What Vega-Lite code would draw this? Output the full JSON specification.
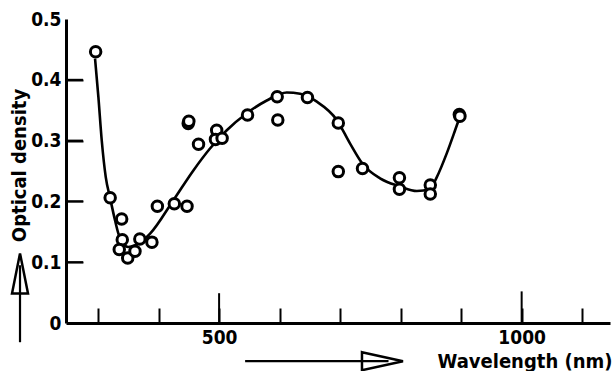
{
  "$schema": "https://vega.github.io/schema/vega-lite/v6.json",
  "autosize": "none",
  "width": 544,
  "height": 304,
  "padding": {"left": 66, "top": 19, "right": 3, "bottom": 48},
  "background": "white",
  "config": {
    "view": {"stroke": null},
    "font": "DejaVu Sans Condensed, DejaVu Sans",
    "axis": {
      "grid": false,
      "domainColor": "black",
      "domainWidth": 3,
      "tickColor": "black",
      "tickWidth": 2,
      "labelColor": "black",
      "labelFont": "DejaVu Sans Condensed, DejaVu Sans",
      "labelFontWeight": "bold",
      "labelFontSize": 19,
      "titleColor": "black",
      "titleFont": "DejaVu Sans Condensed, DejaVu Sans",
      "titleFontWeight": "bold",
      "titleFontSize": 20
    }
  },
  "datasets": {
    "points": [
      {"wl": 296, "od": 0.446},
      {"wl": 320, "od": 0.206},
      {"wl": 339, "od": 0.171},
      {"wl": 340, "od": 0.137},
      {"wl": 335, "od": 0.121},
      {"wl": 349, "od": 0.107},
      {"wl": 361, "od": 0.118},
      {"wl": 369, "od": 0.138},
      {"wl": 389, "od": 0.133},
      {"wl": 398, "od": 0.192},
      {"wl": 426, "od": 0.196},
      {"wl": 447, "od": 0.192},
      {"wl": 449, "od": 0.328},
      {"wl": 450, "od": 0.332},
      {"wl": 466, "od": 0.294},
      {"wl": 496, "od": 0.317},
      {"wl": 494, "od": 0.302},
      {"wl": 505, "od": 0.304},
      {"wl": 547, "od": 0.342},
      {"wl": 596, "od": 0.372},
      {"wl": 597, "od": 0.334},
      {"wl": 646, "od": 0.371},
      {"wl": 697, "od": 0.329},
      {"wl": 697, "od": 0.249},
      {"wl": 737, "od": 0.254},
      {"wl": 798, "od": 0.239},
      {"wl": 798, "od": 0.220},
      {"wl": 849, "od": 0.227},
      {"wl": 849, "od": 0.212},
      {"wl": 897, "od": 0.343},
      {"wl": 898, "od": 0.340}
    ],
    "curve": [
      {"wl": 295, "od": 0.435},
      {"wl": 300.5, "od": 0.372},
      {"wl": 306, "od": 0.301},
      {"wl": 312.7, "od": 0.240},
      {"wl": 319.8, "od": 0.206},
      {"wl": 328, "od": 0.169},
      {"wl": 333.6, "od": 0.147},
      {"wl": 341.3, "od": 0.131},
      {"wl": 349.6, "od": 0.125},
      {"wl": 361.2, "od": 0.128},
      {"wl": 374.4, "od": 0.136},
      {"wl": 386, "od": 0.147},
      {"wl": 424.5, "od": 0.202},
      {"wl": 457.5, "od": 0.251},
      {"wl": 485, "od": 0.287},
      {"wl": 512.7, "od": 0.317},
      {"wl": 545.8, "od": 0.345},
      {"wl": 578.8, "od": 0.366},
      {"wl": 611.9, "od": 0.379},
      {"wl": 633.9, "od": 0.377},
      {"wl": 661.5, "od": 0.364},
      {"wl": 694.5, "od": 0.334},
      {"wl": 716.5, "od": 0.295},
      {"wl": 736.9, "od": 0.262},
      {"wl": 766, "od": 0.238},
      {"wl": 798, "od": 0.225},
      {"wl": 826.8, "od": 0.217},
      {"wl": 848.8, "od": 0.221},
      {"wl": 859.8, "od": 0.240},
      {"wl": 876.2, "od": 0.279},
      {"wl": 890, "od": 0.317},
      {"wl": 896.7, "od": 0.336}
    ],
    "majorTicks": [
      {"wl": 500, "y0": 0, "y1": 0.049},
      {"wl": 1000, "y0": 0, "y1": 0.052}
    ],
    "yTicks": [
      {"tx": 261, "ty": 0.1},
      {"tx": 261, "ty": 0.2},
      {"tx": 261, "ty": 0.3},
      {"tx": 261, "ty": 0.4}
    ],
    "arrowShafts": [
      {"x0": 543, "x1": 780, "y0": -0.0628, "y1": -0.0628},
      {"x0": 171, "x1": 171, "y0": -0.0316, "y1": 0.095}
    ],
    "arrowHeadX": [{"wl": 770, "od": -0.0628}],
    "arrowHeadY": [{"wl": 171, "od": 0.0816}]
  },
  "resolve": {"axis": {"y": "independent"}},
  "layer": [
    {
      "data": {"name": "curve"},
      "mark": {"type": "line", "color": "black", "strokeWidth": 2.6, "interpolate": "monotone"},
      "encoding": {
        "x": {
          "field": "wl", "type": "quantitative",
          "scale": {"domain": [247, 1146], "nice": false, "zero": false},
          "axis": {
            "values": [300, 400, 500, 600, 700, 800, 900, 1000, 1100],
            "tickSize": -15,
            "format": "d",
            "labelExpr": "datum.value == 500 || datum.value == 1000 ? datum.label : ''",
            "labelPadding": 20,
            "title": "Wavelength (nm)",
            "titleX": 546,
            "titleY": 44,
            "titleAlign": "right",
            "titleBaseline": "alphabetic"
          }
        },
        "y": {
          "field": "od", "type": "quantitative",
          "scale": {"domain": [0, 0.5], "nice": false},
          "axis": {
            "orient": "left",
            "values": [0, 0.1, 0.2, 0.3, 0.4, 0.5],
            "ticks": false,
            "labelExpr": "datum.value == 0 ? '0' : format(datum.value, '.1f')",
            "labelPadding": 5,
            "title": "Optical density",
            "titleX": -47,
            "titleY": 146,
            "titleAngle": -90,
            "titleAlign": "center",
            "titleBaseline": "middle"
          }
        }
      }
    },
    {
      "data": {"name": "yTicks"},
      "mark": {"type": "tick", "orient": "horizontal", "color": "black", "size": 17, "thickness": 2, "opacity": 1, "clip": false},
      "encoding": {
        "x": {"field": "tx", "type": "quantitative"},
        "y": {
          "field": "ty", "type": "quantitative",
          "axis": {
            "orient": "right",
            "offset": -544,
            "values": [0.1, 0.2, 0.3, 0.4],
            "ticks": true,
            "tickSize": 17,
            "tickWidth": 2,
            "tickColor": "black",
            "labels": false,
            "domain": false,
            "title": null,
            "zindex": 2
          }
        }
      }
    },
    {
      "data": {"name": "points"},
      "mark": {"type": "point", "shape": "circle", "filled": true, "fill": "white", "stroke": "black", "strokeWidth": 3, "size": 110, "opacity": 1},
      "encoding": {
        "x": {"field": "wl", "type": "quantitative"},
        "y": {"field": "od", "type": "quantitative", "axis": null}
      }
    },
    {
      "data": {"name": "majorTicks"},
      "mark": {"type": "rule", "color": "black", "strokeWidth": 2},
      "encoding": {
        "x": {"field": "wl", "type": "quantitative"},
        "y": {"field": "y0", "type": "quantitative", "axis": null},
        "y2": {"field": "y1"}
      }
    },
    {
      "data": {"name": "arrowShafts"},
      "mark": {"type": "rule", "color": "black", "strokeWidth": 2.2, "clip": false},
      "encoding": {
        "x": {"field": "x0", "type": "quantitative"},
        "x2": {"field": "x1"},
        "y": {"field": "y0", "type": "quantitative", "axis": null},
        "y2": {"field": "y1"}
      }
    },
    {
      "data": {"name": "arrowHeadX"},
      "mark": {"type": "point", "shape": "M -1 -0.44 L 1 0 L -1 0.44 Z", "filled": false, "stroke": "black", "strokeWidth": 2.5, "size": 1681, "opacity": 1, "clip": false},
      "encoding": {
        "x": {"field": "wl", "type": "quantitative"},
        "y": {"field": "od", "type": "quantitative", "axis": null}
      }
    },
    {
      "data": {"name": "arrowHeadY"},
      "mark": {"type": "point", "shape": "M -0.4 1 L 0 -1 L 0.4 1 Z", "filled": false, "stroke": "black", "strokeWidth": 2.5, "size": 1600, "opacity": 1, "clip": false},
      "encoding": {
        "x": {"field": "wl", "type": "quantitative"},
        "y": {"field": "od", "type": "quantitative", "axis": null}
      }
    }
  ]
}
